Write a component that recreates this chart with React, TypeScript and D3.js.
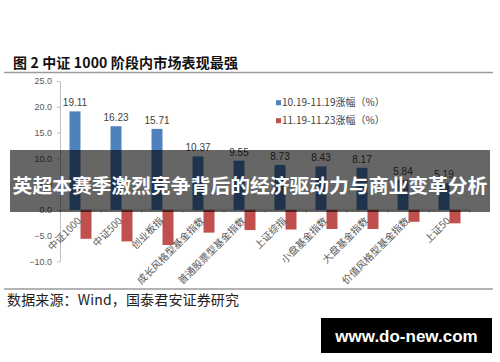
import React, { useEffect, useRef } from "react";
import * as d3 from "d3";

const categories = [
  "中证1000",
  "中证500",
  "创业板指",
  "成长风格型基金指数",
  "普通股票型基金指数",
  "上证综指",
  "小盘基金指数",
  "大盘基金指数",
  "价值风格型基金指数",
  "上证50",
];
const seriesNames = ["10.19-11.19涨幅（%）", "11.19-11.23涨幅（%）"];
const rise1 = [19.11, 16.23, 15.71, 10.37, 9.55, 8.73, 8.43, 8.17, 5.84, 5.19];
const rise2 = [-5.6, -6.1, -6.8, -4.4, -3.9, -3.8, -3.7, -3.7, -2.3, -2.6];
const yTicks = [-10, -5, 0, 5, 10, 15, 20, 25];
const colors = ["#4f81bd", "#c0504d"];

const CJK = "'Noto Sans CJK SC', sans-serif";
const LATIN = "'Liberation Sans', Arial, sans-serif";

export default function App() {
  const ref = useRef<SVGSVGElement>(null);

  useEffect(() => {
    const width = 500;
    const height = 362;
    const svg = d3.select(ref.current).attr("width", width).attr("height", height);
    svg.selectAll("*").remove();

    svg.append("rect").attr("width", width).attr("height", height).attr("fill", "#fff");

    // title + rules
    svg.append("text")
      .attr("x", 13).attr("y", 68)
      .attr("font-family", CJK).attr("font-weight", "bold").attr("font-size", 14)
      .attr("fill", "#111")
      .attr("textLength", 225).attr("lengthAdjust", "spacing")
      .text("图 2 中证 1000 阶段内市场表现最强");
    svg.append("line").attr("x1", 4).attr("x2", 493).attr("y1", 72.5).attr("y2", 72.5)
      .attr("stroke", "#9a9a9a").attr("stroke-width", 1.5);
    svg.append("line").attr("x1", 4).attr("x2", 493).attr("y1", 289).attr("y2", 289)
      .attr("stroke", "#9a9a9a").attr("stroke-width", 1.5);
    svg.append("text")
      .attr("x", 7).attr("y", 305)
      .attr("font-family", CJK).attr("font-size", 14).attr("fill", "#222")
      .attr("textLength", 232).attr("lengthAdjust", "spacing")
      .text("数据来源：Wind，国泰君安证券研究");

    const x = d3.scaleBand().domain(categories).range([60, 470]);
    const xs = d3.scaleBand().domain(["a", "b"]).range([9.5, 31.5]);
    const y = d3.scaleLinear().domain([-10, 25]).range([261.5, 81]);

    // y axis
    const yAxis = svg.append("g").attr("transform", "translate(60,0)")
      .call(d3.axisLeft(y).tickValues(yTicks).tickFormat(d3.format(".1f")).tickSize(3).tickSizeOuter(0));
    yAxis.select(".domain").attr("stroke", "#bfbfbf");
    yAxis.selectAll(".tick line").attr("stroke", "#bfbfbf");
    yAxis.selectAll(".tick text")
      .attr("font-family", LATIN).attr("font-size", 9).attr("fill", "#595959").attr("x", -8);

    // zero line with ticks between categories
    const y0 = y(0);
    svg.append("line").attr("x1", 60).attr("x2", 470).attr("y1", y0).attr("y2", y0)
      .attr("stroke", "#bfbfbf");
    svg.selectAll(".cat-tick").data(d3.range(categories.length + 1)).join("line")
      .attr("class", "cat-tick")
      .attr("x1", i => 60 + i * x.step()).attr("x2", i => 60 + i * x.step())
      .attr("y1", y0).attr("y2", y0 + 3)
      .attr("stroke", "#bfbfbf");

    // bars
    const rows = categories.map((c, i) => ({ c, a: rise1[i], b: rise2[i] }));
    svg.selectAll(".bar-a").data(rows).join("rect")
      .attr("class", "bar-a")
      .attr("x", d => (x(d.c) as number) + (xs("a") as number))
      .attr("width", xs.bandwidth())
      .attr("y", d => y(d.a)).attr("height", d => y0 - y(d.a))
      .attr("fill", colors[0]);
    svg.selectAll(".bar-b").data(rows).join("rect")
      .attr("class", "bar-b")
      .attr("x", d => (x(d.c) as number) + (xs("b") as number))
      .attr("width", xs.bandwidth())
      .attr("y", y0).attr("height", d => y(d.b) - y0)
      .attr("fill", colors[1]);

    // value labels on blue bars
    svg.selectAll(".lbl").data(rows).join("text")
      .attr("class", "lbl")
      .attr("x", d => (x(d.c) as number) + (xs("a") as number) + xs.bandwidth() / 2)
      .attr("y", d => y(d.a) - 5)
      .attr("text-anchor", "middle")
      .attr("font-family", LATIN).attr("font-size", 10).attr("fill", "#404040")
      .text(d => d.a.toFixed(2));

    // category labels
    svg.selectAll(".cat").data(categories).join("text")
      .attr("class", "cat")
      .attr("transform", d => `translate(${(x(d) as number) + x.bandwidth() / 2 - 1},219) rotate(-45)`)
      .attr("text-anchor", "end").attr("dy", "0.35em")
      .attr("font-family", CJK).attr("font-size", 10).attr("fill", "#595959")
      .text(d => d);

    // legend
    const legend = svg.selectAll(".leg").data(seriesNames).join("g")
      .attr("class", "leg")
      .attr("transform", (d, i) => `translate(276,${102.7 + i * 18})`);
    legend.append("rect").attr("x", 0).attr("y", -2.5).attr("width", 5).attr("height", 5)
      .attr("fill", (d, i) => colors[i]);
    legend.append("text").attr("x", 6).attr("dy", "0.35em")
      .attr("font-family", CJK).attr("font-size", 10).attr("fill", "#404040")
      .text(d => d);

    // overlay banner
    svg.append("rect").attr("x", 10).attr("y", 150).attr("width", 480).attr("height", 62)
      .attr("fill", "rgba(0,0,0,0.6)");
    svg.append("text")
      .attr("x", 250).attr("y", 184)
      .attr("text-anchor", "middle").attr("dominant-baseline", "central")
      .attr("font-family", CJK).attr("font-weight", "bold").attr("font-size", 19.8)
      .attr("fill", "#fff")
      .text("英超本赛季激烈竞争背后的经济驱动力与商业变革分析");

    // watermark
    svg.append("rect").attr("x", 321).attr("y", 318).attr("width", 171).attr("height", 35)
      .attr("fill", "#000");
    svg.append("text")
      .attr("x", 406.5).attr("y", 336)
      .attr("text-anchor", "middle").attr("dominant-baseline", "central")
      .attr("font-family", LATIN).attr("font-weight", "bold").attr("font-size", 17)
      .attr("fill", "#fff")
      .text("www.do-new.com");
  }, []);

  return <svg ref={ref} style={{ position: "absolute", left: 0, top: 0, display: "block" }} />;
}
